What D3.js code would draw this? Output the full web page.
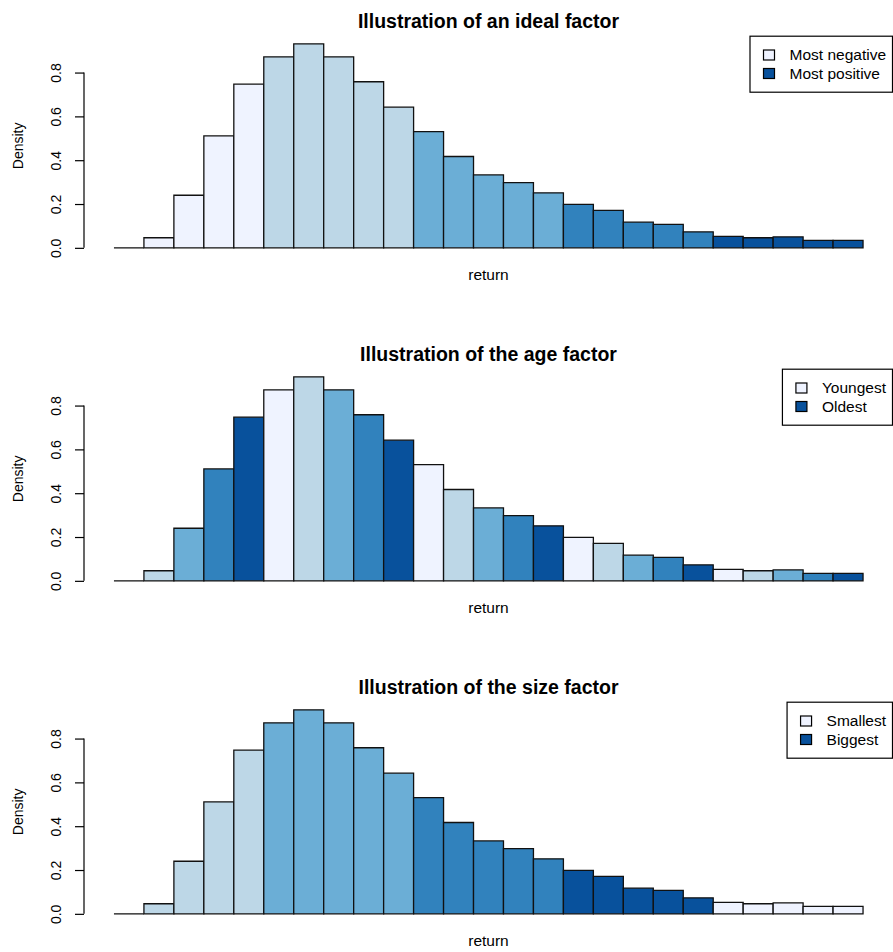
<!DOCTYPE html>
<html lang="en">
<head>
<meta charset="UTF-8">
<title>factor histograms</title>
<script src="https://cdn.jsdelivr.net/npm/d3@7/dist/d3.min.js"></script>
<style>
  body { margin: 0; background: #fff; }
  text { font-family: "Liberation Sans", Arial, Helvetica, sans-serif; fill: #000; }
</style>
</head>
<body>
<script>
// histogram bins (index of the bin) and density per bin
var bins = [0, 1, 2, 3, 4, 5, 6, 7, 8, 9, 10, 11, 12, 13, 14, 15, 16, 17, 18, 19, 20, 21, 22, 23, 24];
var density = [0, 0.046, 0.24, 0.511, 0.747, 0.872, 0.931, 0.872, 0.758, 0.642, 0.530, 0.417,
  0.333, 0.298, 0.251, 0.198, 0.171, 0.117, 0.107, 0.073, 0.052, 0.046, 0.050, 0.034, 0.034];

// colour group (0..4) of each bin in each panel
var groupIdeal = [0,0,0,0,0, 1,1,1,1,1, 2,2,2,2,2, 3,3,3,3,3, 4,4,4,4,4];
var groupAge   = [0,1,2,3,4, 0,1,2,3,4, 0,1,2,3,4, 0,1,2,3,4, 0,1,2,3,4];
var groupSize  = [1,1,1,1,1, 2,2,2,2,2, 3,3,3,3,3, 4,4,4,4,4, 0,0,0,0,0];

var titles = ['Illustration of an ideal factor', 'Illustration of the age factor', 'Illustration of the size factor'];
var legendLabels = [['Most negative', 'Most positive'], ['Youngest', 'Oldest'], ['Smallest', 'Biggest']];
var yTicks = [0, 0.2, 0.4, 0.6, 0.8];

var blues = ['#EFF3FF', '#BDD7E7', '#6BAED6', '#3182BD', '#08519C'];
var groups = [groupIdeal, groupAge, groupSize];

var width = 893, height = 952;
var panelH = 333;
var plot = { left: 84, right: 893, top: 35.7, bottom: 256 };

var svg = d3.select('body').append('svg')
  .attr('width', width)
  .attr('height', height);

var xScale = d3.scaleLinear()
  .domain([-1, bins.length + 1])
  .range([plot.left, plot.right]);

var ymax = d3.max(density);
var yScale = d3.scaleLinear()
  .domain([-0.04 * ymax, ymax * 1.04])
  .range([plot.bottom, plot.top]);

// a bar as a closed path, so an empty bin still shows as a line on the base
function barPath(d, i) {
  var x0 = xScale(d), x1 = xScale(d + 1);
  var y0 = yScale(0), y1 = yScale(density[i]);
  return `M${x0},${y0}V${y1}H${x1}V${y0}Z`;
}

function drawPanel(k) {
  var g = svg.append('g')
    .attr('transform', `translate(0,${k * panelH})`);

  // bars
  g.selectAll('path.bar')
    .data(bins)
    .enter().append('path')
    .attr('class', 'bar')
    .attr('d', barPath)
    .attr('fill', (d, i) => blues[groups[k][i]])
    .attr('stroke', '#111')
    .attr('stroke-width', 1.3);

  // y axis
  var yAxis = d3.axisLeft(yScale)
    .tickValues(yTicks)
    .tickFormat(d3.format('.1f'))
    .tickSize(9)
    .tickSizeOuter(0);

  var ax = g.append('g')
    .attr('transform', `translate(${plot.left},0)`)
    .call(yAxis);
  ax.select('.domain').remove();
  ax.selectAll('.tick line').attr('stroke', '#000').attr('stroke-width', 1.2);
  ax.selectAll('.tick text')
    .attr('x', 0)
    .attr('dy', '0.35em')
    .attr('transform', 'translate(-28,0) rotate(-90)')
    .attr('text-anchor', 'middle')
    .style('font-size', '14px')
    .style('font-family', '"Liberation Sans", Arial, sans-serif')
    .attr('fill', '#000');
  ax.append('line')
    .attr('x1', 0).attr('x2', 0)
    .attr('y1', yScale(yTicks[0]))
    .attr('y2', yScale(yTicks[yTicks.length - 1]))
    .attr('stroke', '#000')
    .attr('stroke-width', 1.2);

  // labels
  g.append('text')
    .attr('x', (plot.left + plot.right) / 2)
    .attr('y', 28)
    .attr('text-anchor', 'middle')
    .style('font-size', '19.5px')
    .style('font-weight', 'bold')
    .text(titles[k]);

  g.append('text')
    .attr('x', (plot.left + plot.right) / 2)
    .attr('y', 280)
    .attr('text-anchor', 'middle')
    .style('font-size', '15.5px')
    .text('return');

  g.append('text')
    .attr('transform', `translate(18,${(plot.top + plot.bottom) / 2}) rotate(-90)`)
    .attr('dy', '0.35em')
    .attr('text-anchor', 'middle')
    .style('font-size', '14px')
    .text('Density');

  // legend (top right)
  var leg = g.append('g');
  var texts = leg.selectAll('text')
    .data(legendLabels[k])
    .enter().append('text')
    .attr('y', (d, i) => 55 + i * 18.5)
    .attr('dy', '0.35em')
    .style('font-size', '15.5px')
    .text(d => d);
  var tw = 0;
  texts.each(function() { tw = Math.max(tw, this.getComputedTextLength()); });
  var boxW = 39.5 + tw + 6.5;
  var boxL = plot.right - 0.5 - boxW;
  texts.attr('x', boxL + 39.5);

  leg.insert('rect', 'text')
    .attr('x', boxL)
    .attr('y', plot.top + 0.5)
    .attr('width', boxW)
    .attr('height', 56)
    .attr('fill', '#fff')
    .attr('stroke', '#000')
    .attr('stroke-width', 1.2);

  leg.selectAll('rect.key')
    .data([0, 4])
    .enter().append('rect')
    .attr('class', 'key')
    .attr('x', boxL + 13.5)
    .attr('y', (d, i) => 55 + i * 18.5 - 5)
    .attr('width', 11)
    .attr('height', 10)
    .attr('fill', d => blues[d])
    .attr('stroke', '#000')
    .attr('stroke-width', 1.2);
}

for (var k = 0; k < 3; k++) drawPanel(k);
</script>
</body>
</html>
